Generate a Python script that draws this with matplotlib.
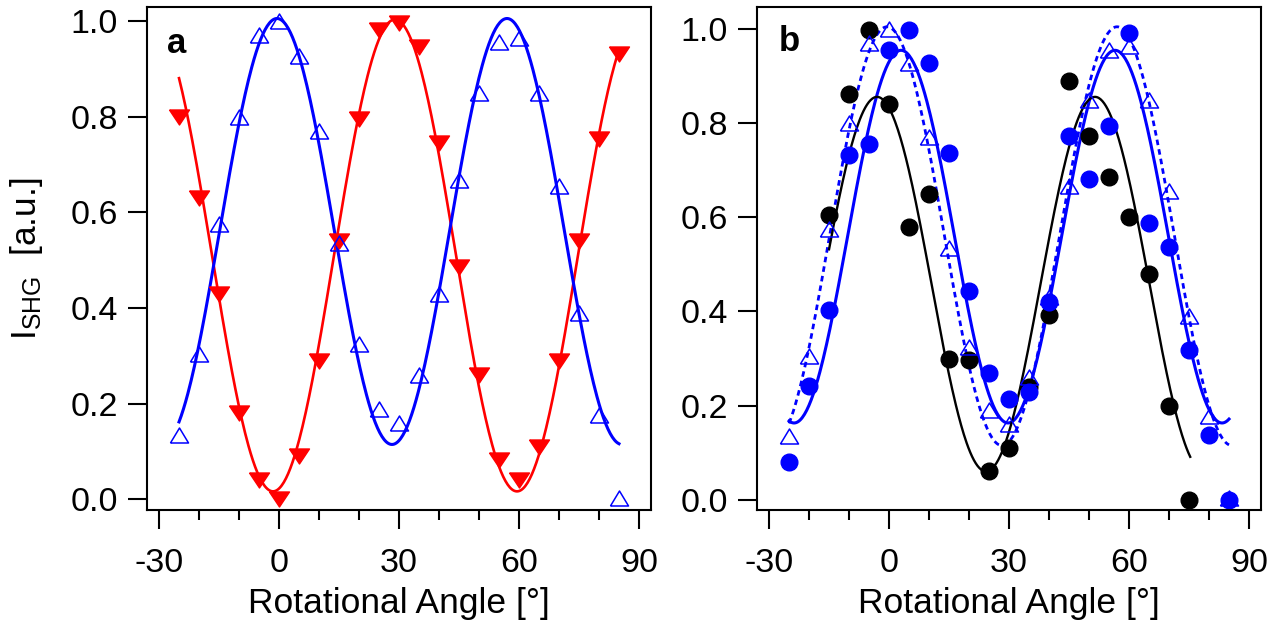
import numpy as np
import matplotlib
matplotlib.use('Agg')
import matplotlib.pyplot as plt
from matplotlib.ticker import MultipleLocator

plt.rcParams['font.family'] = ['Liberation Sans', 'DejaVu Sans']
plt.rcParams['mathtext.fontset'] = 'custom'
plt.rcParams['mathtext.rm'] = 'Liberation Sans'
plt.rcParams['mathtext.it'] = 'Liberation Sans'
plt.rcParams['axes.unicode_minus'] = False

###############################################################################
# Dados

ang = [-25, -20, -15, -10, -5, 0, 5, 10, 15, 20, 25, 30, 35, 40, 45, 50, 55,
       60, 65, 70, 75, 80, 85]

# painel a
tri_azul = [0.135, 0.305, 0.575, 0.80, 0.97, 1.0, 0.927, 0.77, 0.535, 0.325,
            0.19, 0.16, 0.26, 0.43, 0.667, 0.85, 0.955, 0.965, 0.85, 0.656,
            0.39, 0.177, 0.004]
tri_verm = [0.80, 0.63, 0.43, 0.18, 0.04, 0.0, 0.09, 0.29, 0.54, 0.795, 0.98,
            0.996, 0.945, 0.744, 0.486, 0.26, 0.083, 0.04, 0.11, 0.29, 0.54,
            0.754, 0.93]

# painel b
ang_preto = [-15, -10, -5, 0, 5, 10, 15, 20, 25, 30, 35, 40, 45, 50, 55, 60,
             65, 70, 75]
circ_preto = [0.604, 0.862, 0.998, 0.84, 0.579, 0.65, 0.30, 0.296, 0.06,
              0.11, 0.24, 0.392, 0.89, 0.773, 0.685, 0.60, 0.48, 0.20, 0.0]
circ_azul = [0.081, 0.242, 0.404, 0.733, 0.756, 0.955, 0.998, 0.927, 0.737,
             0.443, 0.27, 0.215, 0.229, 0.42, 0.773, 0.682, 0.794, 0.992,
             0.589, 0.536, 0.318, 0.138, 0.0]

# ajustes: [offset, amplitude, posicao do maximo, periodo, inicio, fim]
fit_azul_a = [0.56, 0.445, -0.5, 57.5, -25, 85]
fit_verm_a = [0.51, -0.493, -1.5, 61.0, -25, 85]
fit_preto_b = [0.458, 0.398, -3.0, 54.5, -15, 75.3]
fit_azul_b = [0.559, 0.396, 3.0, 53.5, -25, 85]

###############################################################################
# Funções

def curva(p):
    off, amp, x0, T, xi, xf = p
    x = np.linspace(xi, xf, 400)
    return x, off + amp * np.cos(2 * np.pi * (x - x0) / T)

def arruma_eixo(ax, ytop):
    ax.set_xlim(-33, 93)
    ax.set_ylim(-0.022, ytop)
    ax.xaxis.set_major_locator(MultipleLocator(30))
    ax.xaxis.set_minor_locator(MultipleLocator(10))
    ax.yaxis.set_major_locator(MultipleLocator(0.2))
    ax.tick_params(which='major', direction='out', length=14, width=1.5,
                   labelsize=24.5)
    ax.tick_params(axis='x', which='major', pad=13)
    ax.tick_params(axis='y', which='major', pad=7)
    ax.tick_params(which='minor', direction='out', length=7, width=1.5)
    for s in ax.spines.values():
        s.set_linewidth(1.5)
    ax.set_xlabel('Rotational Angle [°]', fontsize=25.5, labelpad=6)

tri_up = [(-1, -0.83), (1, -0.83), (0, 0.83), (-1, -0.83)]
tri_dn = [(-1, 0.75), (1, 0.75), (0, -0.75), (-1, 0.75)]

###############################################################################

fig = plt.figure(figsize=(12.84, 6.32), dpi=100)
ax1 = fig.add_axes([0.1145, 0.193, 0.3925, 0.7959])
ax2 = fig.add_axes([0.5896, 0.193, 0.3925, 0.7959])

# painel a
x, y = curva(fit_verm_a)
ax1.plot(x, y, color='red', lw=1.9)
x, y = curva(fit_azul_a)
ax1.plot(x, y, color='blue', lw=2.2)
ax1.plot(ang, tri_verm, ls='none', marker=tri_dn, ms=14.4, color='red')
ax1.plot(ang, tri_azul, ls='none', marker=tri_up, ms=13, mfc='none',
         mec='blue', mew=1.1)
arruma_eixo(ax1, 1.029)
ax1.set_ylabel(r'I$_{\mathrm{SHG}}$  [a.u.]', fontsize=25.5, labelpad=18)
ax1.text(0.04, 0.909, 'a', transform=ax1.transAxes, fontsize=25,
         fontweight='bold', ha='left', va='baseline')

# painel b
x, y = curva(fit_azul_a)
ax2.plot(x, y, color='blue', lw=2.0, ls=(0, (2, 1.5)))
x, y = curva(fit_azul_b)
ax2.plot(x, y, color='blue', lw=2.2)
x, y = curva(fit_preto_b)
ax2.plot(x, y, color='black', lw=1.7)
ax2.plot(ang_preto, circ_preto, ls='none', marker='o', ms=12, color='black')
ax2.plot(ang, circ_azul, ls='none', marker='o', ms=12, color='blue')
ax2.plot(ang, tri_azul, ls='none', marker=tri_up, ms=13, mfc='none',
         mec='blue', mew=1.1)
arruma_eixo(ax2, 1.047)
ax2.text(0.044, 0.912, 'b', transform=ax2.transAxes, fontsize=25,
         fontweight='bold', ha='left', va='baseline')

fig.savefig('out.png', dpi=100, facecolor='white')
